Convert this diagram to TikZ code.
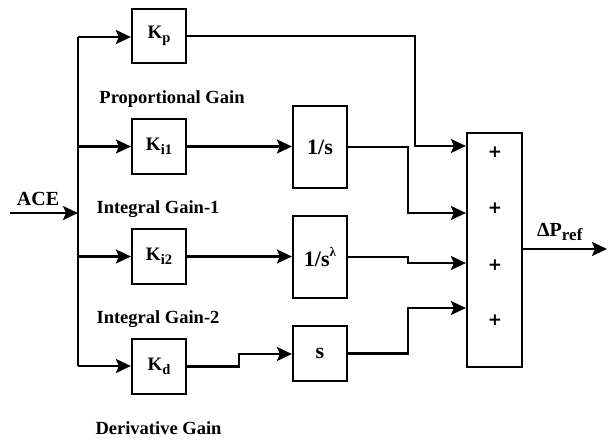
\documentclass[tikz,border=0pt]{standalone}
\usepackage{fontspec}
\setmainfont{Liberation Serif}
\newfontfamily\plusfont{DejaVu Sans}
\usetikzlibrary{arrows.meta}
\newcommand{\mysub}[2][14.5]{\raisebox{-0.45ex}{\fontsize{#1}{#1}\selectfont #2}}
\newcommand{\mysup}[1]{\raisebox{0.9ex}{\fontsize{13}{13}\selectfont #1}}
\begin{document}
\begin{tikzpicture}[x=1pt,y=-1pt,
  blk/.style={draw,line width=2.2pt,minimum width=54pt,inner sep=0pt,font=\bfseries\fontsize{19}{19}\selectfont},
  bigtxt/.style={font=\bfseries\fontsize{22}{22}\selectfont},
  wire/.style={line width=2.2pt},
  arr/.style={line width=2.2pt,-{Stealth[length=15pt,width=14pt,inset=3pt]}},
  lbl/.style={font=\bfseries\fontsize{18.5}{18.5}\selectfont,inner sep=0pt},
  plus/.style={font=\plusfont\bfseries\fontsize{17}{17}\selectfont,inner sep=0pt}]
\useasboundingbox (0,0) rectangle (608,441);
% blocks
\node[blk,minimum height=54pt] (kp) at (159,36) {K\mysub{p}};
\node[blk,minimum height=55pt] (ki1) at (159,146.5) {K\mysub{i1}};
\node[blk,minimum height=55pt] (ki2) at (159,256.5) {K\mysub{i2}};
\node[blk,minimum height=55pt] (kd) at (159,366.5) {K\mysub{d}};
\node[blk,bigtxt,minimum height=82pt] (integ) at (320,147) {1/s};
\node[blk,bigtxt,minimum height=82pt] (frac) at (320,257) {1/s\mysup{λ}};
\node[blk,bigtxt,minimum height=55pt] (der) at (320,353.5) {s};
\node[blk,minimum width=55pt,minimum height=234pt] (sum) at (494.5,250) {};
\node[plus] (p1) at (495,152) {+};
\node[plus] (p2) at (495,208) {+};
\node[plus] (p3) at (495,265) {+};
\node[plus] (p4) at (495,320) {+};
% labels
\node[lbl] (lp) at (172,99) {Proportional Gain};
\node[lbl] (li1) at (158,209) {Integral Gain-1};
\node[lbl] (li2) at (158,319) {Integral Gain-2};
\node[lbl] (ld) at (158.5,428) {Derivative Gain};
\node[lbl,font=\bfseries\fontsize{20}{20}\selectfont] (ace) at (38,199) {ACE};
\node[lbl,anchor=west,font=\bfseries\fontsize{20}{20}\selectfont] (dp) at (537,232) {ΔP\mysub[17]{ref}};
% coordinates
\coordinate (in) at (10,213);
\coordinate (btop) at (78,37);
\coordinate (bbot) at (78,366);
\coordinate (bin) at (78,213);
\coordinate (out) at (607,249);
% input and bus
\draw[arr] (in) -- (bin);
\draw[wire] (btop) -- (bbot);
\draw[arr] (btop) -- (kp.west |- btop);
\draw[arr] (78,146.5) -- (ki1.west);
\draw[arr] (78,256.5) -- (ki2.west);
\draw[arr] (bbot) -- (kd.west |- bbot);
% middle
\draw[arr] (ki1.east) -- (integ.west |- ki1.east);
\draw[arr] (ki2.east) -- (frac.west |- ki2.east);
\draw[arr] (kd.east) -- (239,366.5) -- (239,354) -- (der.west |- 0,354);
% to sum
\draw[arr] (kp.east) -- (415,36) -- (415,146) -- (sum.west |- 0,146);
\draw[arr] (integ.east) -- (408,147) -- (408,213) -- (sum.west |- 0,213);
\draw[arr] (frac.east) -- (408,257) -- (408,263) -- (sum.west |- 0,263);
\draw[arr] (der.east) -- (408,353.5) -- (408,308) -- (sum.west |- 0,308);
\draw[arr] (sum.east |- out) -- (out);
\end{tikzpicture}
\end{document}
